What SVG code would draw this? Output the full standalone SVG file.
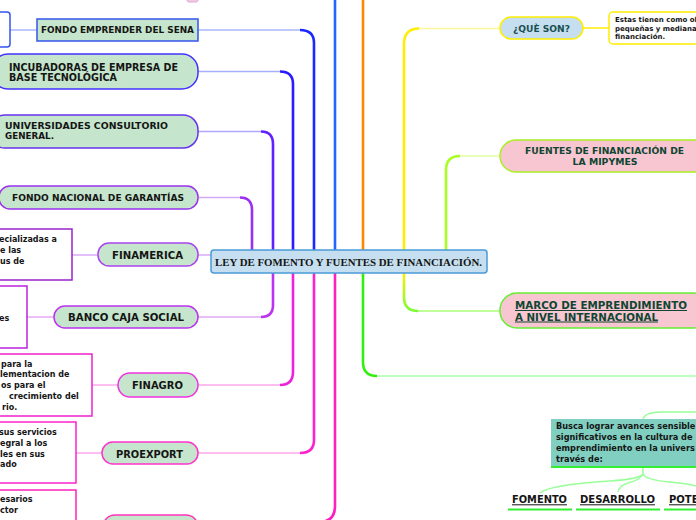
<svg xmlns="http://www.w3.org/2000/svg" width="696" height="520" viewBox="0 0 696 520">
<defs>
<linearGradient id="gMarco" gradientUnits="userSpaceOnUse" x1="0" y1="273" x2="0" y2="311">
<stop offset="0" stop-color="#ffee00"/><stop offset="1" stop-color="#77ff33"/>
</linearGradient>
</defs>
<style>
.t{font-family:"DejaVu Sans",Verdana,sans-serif;font-weight:bold;fill:#151515}
.g{fill:#0f4533}
.pill{fill:#c5e5cc;stroke-width:1.5}
.box{fill:#ffffff;stroke-width:1.5}
.trunk{fill:none;stroke-width:2.6}
.twig{fill:none;stroke-width:1.5}
.pink{fill:#f8c6d0;stroke-width:1.5}
</style>
<rect width="696" height="520" fill="#ffffff"/>

<g id="connectors">
<!-- left top -->
<path class="trunk" stroke="#9a30f0" d="M252,250 V210 Q252,197.5 240,197.5"/>
<path class="twig" stroke="#d4a8f8" d="M240,197.5 H198"/>
<path class="trunk" stroke="#6020ff" d="M273,250 V144 Q273,131.5 261,131.5"/>
<path class="twig" stroke="#b0a8ff" d="M261,131.5 H198"/>
<path class="trunk" stroke="#2a1aff" d="M293,250 V84 Q293,71.5 280,71.5"/>
<path class="twig" stroke="#a8b0ff" d="M280,71.5 H198"/>
<path class="trunk" stroke="#1a2aff" d="M314,250 V43 Q314,30 300,30"/>
<path class="twig" stroke="#a8b8ff" d="M300,30 H198"/>
<path class="trunk" stroke="#2266ff" d="M335,250 V0"/>
<path class="trunk" stroke="#ff8800" d="M363,250 V0"/>
<path class="trunk" stroke="#ffee00" d="M404,250 V44 Q404,28.5 419,28.5"/>
<path class="twig" stroke="#fff59a" d="M419,28.5 H500"/>
<path class="trunk" stroke="#aaff22" d="M446,250 V170 Q446,156 460,156"/>
<path class="twig" stroke="#e0ffa0" d="M460,156 H500"/>
<path class="twig" stroke="#d8a8f8" d="M198,255 H211"/>
<!-- right bottom -->
<path class="trunk" stroke="url(#gMarco)" d="M404,273 V297 Q404,311 418,311"/>
<path class="twig" stroke="#aaff77" d="M418,311 H500"/>
<path class="trunk" stroke="#33ee11" d="M363,273 V362 Q363,376 377,376"/>
<path class="twig" stroke="#aaffaa" d="M377,376 H696"/>
<!-- left bottom -->
<path class="trunk" stroke="#bb33ee" d="M273,273 V305 Q273,317 261,317"/>
<path class="twig" stroke="#e0a8f5" d="M261,317 H198"/>
<path class="trunk" stroke="#ee22dd" d="M293,273 V372 Q293,385 280,385"/>
<path class="twig" stroke="#ffa8ee" d="M280,385 H198"/>
<path class="trunk" stroke="#ff22cc" d="M314,273 V440 Q314,453 300,453"/>
<path class="twig" stroke="#ffa8e8" d="M300,453 H198"/>
<path class="trunk" stroke="#ff1fbf" d="M335,273 V506 Q335,522 319,522 H198"/>
<!-- grandchildren -->
<path class="twig" stroke="#a8b8ff" d="M10,30 H37"/>
<path class="twig" stroke="#d8a8f8" d="M72,255 H98"/>
<path class="twig" stroke="#e8a8f5" d="M27,317 H54"/>
<path class="twig" stroke="#ffa8ee" d="M92,385 H118"/>
<path class="twig" stroke="#ffa8ee" d="M76,453 H102"/>
<path class="twig" stroke="#ffee00" d="M583,28 H609"/>
<!-- bottom right -->
<path class="twig" stroke="#99ff99" d="M643,419 Q645,412 662,412 H696"/>
<path class="twig" stroke="#99ff99" d="M643,468 V474 Q640,479 610,481 Q548,485 540,493"/>
<path class="twig" stroke="#99ff99" d="M643,474 Q640,480 628,483 Q619,486 618,492"/>
<path class="twig" stroke="#99ff99" d="M643,474 Q646,480 670,482 Q690,484 696,486"/>
</g>

<g id="top-stub"><rect x="187" y="-10" width="11" height="12" rx="2" fill="#f5c8d8" stroke="#d8a8e8" stroke-width="1"/></g>

<g id="center">
<rect x="211" y="250" width="276" height="23" rx="3" fill="#c5dff0" stroke="#4a9ad8" stroke-width="1.5"/>
<text x="215" y="265.5" textLength="267" lengthAdjust="spacingAndGlyphs" font-family="'Liberation Serif','Times New Roman',serif" font-weight="bold" font-size="10.7" fill="#151515">LEY DE FOMENTO Y FUENTES DE FINANCIACIÓN.</text>
</g>

<g id="fondo-emprender">
<rect x="37" y="19" width="161" height="22" fill="#c5e5cc" stroke="#3355ee" stroke-width="1.5"/>
<text class="t" x="41" y="33" font-size="8.3" textLength="153" lengthAdjust="spacingAndGlyphs">FONDO EMPRENDER DEL SENA</text>
</g>
<g id="fondo-emprender-detail"><rect class="box" x="-10" y="12" width="20" height="35" rx="3" stroke="#3355ee"/></g>

<g id="incubadoras">
<rect class="pill" x="-8" y="54" width="206" height="35" rx="16" stroke="#4433ff"/>
<text class="t" x="9" y="70.5" font-size="11" textLength="169" lengthAdjust="spacingAndGlyphs">INCUBADORAS DE EMPRESA DE</text>
<text class="t" x="9" y="81" font-size="11" textLength="108" lengthAdjust="spacingAndGlyphs">BASE TECNOLÓGICA</text>
</g>

<g id="universidades">
<rect class="pill" x="-10" y="115" width="208" height="33" rx="15" stroke="#6633ee"/>
<text class="t" x="5" y="129" font-size="8.2" textLength="163" lengthAdjust="spacingAndGlyphs">UNIVERSIDADES CONSULTORIO</text>
<text class="t" x="5" y="139.3" font-size="8.2" textLength="49" lengthAdjust="spacingAndGlyphs">GENERAL.</text>
</g>

<g id="fondo-nacional">
<rect class="pill" x="-1" y="186" width="199" height="23" rx="11" stroke="#9933ee"/>
<text class="t" x="12" y="200.7" font-size="8.2" textLength="172" lengthAdjust="spacingAndGlyphs">FONDO NACIONAL DE GARANTÍAS</text>
</g>

<g id="finamerica">
<rect class="pill" x="98" y="243" width="100" height="23" rx="11" stroke="#aa44ee"/>
<text class="t" x="112" y="259.3" font-size="11" textLength="71" lengthAdjust="spacingAndGlyphs">FINAMERICA</text>
</g>
<g id="finamerica-detail">
<rect class="box" x="-5" y="229" width="77" height="51" stroke="#9922cc"/>
<text class="t" x="-1" y="242.3" font-size="8">ecializadas a</text>
<text class="t" x="0" y="253.3" font-size="8">e las</text>
<text class="t" x="0" y="264" font-size="8">us de</text>
</g>

<g id="banco-caja-social">
<rect class="pill" x="54" y="306" width="144" height="22" rx="11" stroke="#bb33ee"/>
<text class="t" x="68" y="321" font-size="11" textLength="116" lengthAdjust="spacingAndGlyphs">BANCO CAJA SOCIAL</text>
</g>
<g id="banco-detail">
<rect class="box" x="-5" y="286" width="32" height="62" stroke="#bb22dd"/>
<text class="t" x="-1" y="320.7" font-size="8">es</text>
</g>

<g id="finagro">
<rect class="pill" x="118" y="373" width="80" height="24" rx="12" stroke="#ee33dd"/>
<text class="t" x="132" y="389.3" font-size="11" textLength="51" lengthAdjust="spacingAndGlyphs">FINAGRO</text>
</g>
<g id="finagro-detail">
<rect class="box" x="-5" y="354" width="97" height="62" stroke="#ee22cc"/>
<text class="t" x="1" y="366.7" font-size="8">para la</text>
<text class="t" x="0" y="377.3" font-size="8">lementacion de</text>
<text class="t" x="1" y="388.3" font-size="8">os para el</text>
<text class="t" x="9" y="399.3" font-size="8">crecimiento del</text>
<text class="t" x="2" y="410" font-size="8">rio.</text>
</g>

<g id="proexport">
<rect class="pill" x="102" y="442" width="96" height="22" rx="11" stroke="#ff33cc"/>
<text class="t" x="116" y="457.5" font-size="11" textLength="67" lengthAdjust="spacingAndGlyphs">PROEXPORT</text>
</g>
<g id="proexport-detail">
<rect class="box" x="-5" y="422" width="81" height="61" stroke="#ff22cc"/>
<text class="t" x="-1" y="435" font-size="8">sus servicios</text>
<text class="t" x="0" y="445.7" font-size="8">egral a los</text>
<text class="t" x="0" y="456.7" font-size="8">les en sus</text>
<text class="t" x="0" y="467.3" font-size="8">ado</text>
</g>

<g id="bottom-node"><rect class="pill" x="103" y="515" width="95" height="25" rx="12" stroke="#ff33bb"/></g>
<g id="bottom-detail">
<rect class="box" x="-5" y="490" width="81" height="50" stroke="#ff22bb"/>
<text class="t" x="0" y="502.3" font-size="8">esarios</text>
<text class="t" x="0" y="513.3" font-size="8">ctor</text>
</g>

<g id="que-son">
<rect x="500" y="17" width="83" height="22" rx="11" fill="#c5dff0" stroke="#ffee00" stroke-width="1.5"/>
<text class="t" x="513" y="31.7" font-size="9" textLength="57" lengthAdjust="spacingAndGlyphs" style="fill:#1a5050">¿QUÈ SON?</text>
</g>
<g id="que-son-detail">
<rect class="box" x="609" y="12" width="100" height="32" rx="4" stroke="#ffee00" stroke-width="2"/>
<text class="t" x="615" y="22.3" font-size="7">Estas tienen como ob</text>
<text class="t" x="615" y="30.5" font-size="7">pequeñas y mediana</text>
<text class="t" x="615" y="39" font-size="7">financiación.</text>
</g>

<g id="fuentes">
<rect class="pink" x="500" y="140" width="210" height="32" rx="16" stroke="#aaee22"/>
<text class="t g" x="604.5" y="154.3" font-size="9" text-anchor="middle" textLength="159" lengthAdjust="spacingAndGlyphs">FUENTES DE FINANCIACIÓN DE</text>
<text class="t g" x="605" y="165" font-size="9" text-anchor="middle" textLength="65" lengthAdjust="spacingAndGlyphs">LA MIPYMES</text>
</g>

<g id="marco">
<rect class="pink" x="500" y="293" width="210" height="35" rx="17" stroke="#66ee33"/>
<text class="t g" x="515" y="309" font-size="10" text-decoration="underline" textLength="172" lengthAdjust="spacingAndGlyphs">MARCO DE EMPRENDIMIENTO </text>
<text class="t g" x="515" y="320.5" font-size="10" text-decoration="underline" textLength="143" lengthAdjust="spacingAndGlyphs">A NIVEL INTERNACIONAL</text>
</g>

<g id="busca">
<rect x="551" y="419" width="150" height="48" fill="#80cfc0"/>
<line x1="551" y1="467" x2="696" y2="467" stroke="#33ee33" stroke-width="2"/>
<text class="t" x="556" y="428.5" font-size="8.2">Busca lograr avances sensible</text>
<text class="t" x="556" y="439.5" font-size="8.2">significativos en la cultura de</text>
<text class="t" x="556" y="450.5" font-size="8.2">emprendimiento en la univers</text>
<text class="t" x="556" y="461.5" font-size="8.2">través de:</text>
</g>

<g id="fomento">
<text class="t" x="512" y="503.3" font-size="10" text-decoration="underline" textLength="55" lengthAdjust="spacingAndGlyphs">FOMENTO</text>
<line x1="508" y1="509.5" x2="572" y2="509.5" stroke="#33ee33" stroke-width="2"/>
</g>
<g id="desarrollo">
<text class="t" x="580" y="503.3" font-size="10" text-decoration="underline" textLength="75" lengthAdjust="spacingAndGlyphs">DESARROLLO</text>
<line x1="576" y1="509.5" x2="660" y2="509.5" stroke="#33ee33" stroke-width="2"/>
</g>
<g id="potencia">
<text class="t" x="669" y="503.3" font-size="10" text-decoration="underline">POTE</text>
<line x1="664" y1="509.5" x2="696" y2="509.5" stroke="#33ee33" stroke-width="2"/>
</g>
</svg>
